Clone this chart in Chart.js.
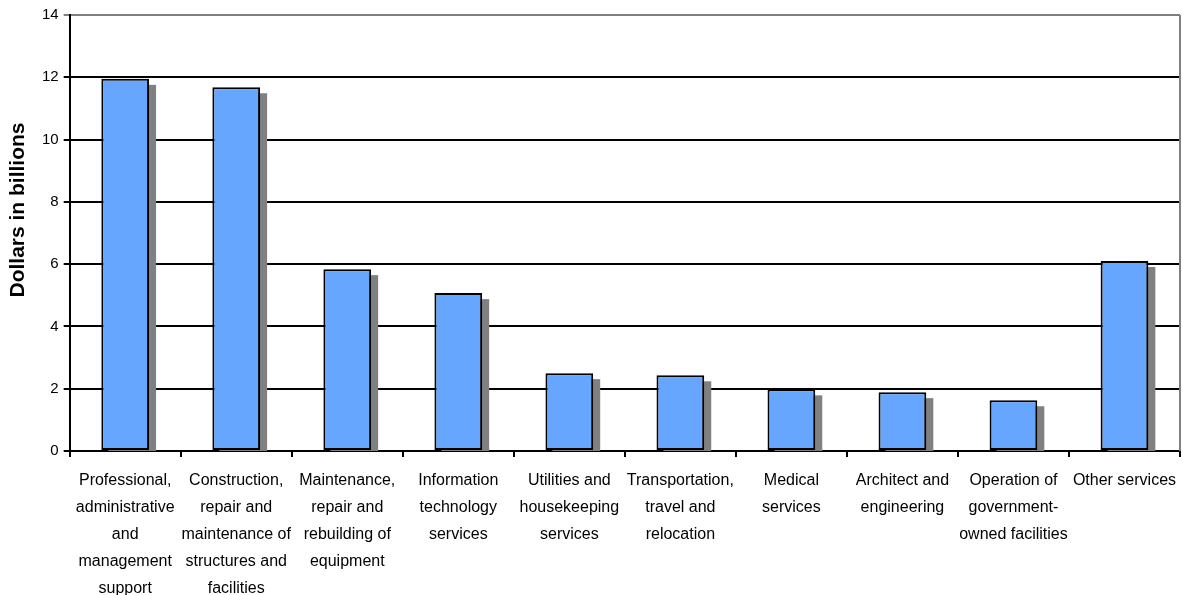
<!DOCTYPE html>
<html>
<head>
<meta charset="utf-8">
<script src="https://cdn.jsdelivr.net/npm/chart.js@4/dist/chart.umd.min.js"></script>
<style>
  html, body { margin: 0; padding: 0; background: #fff; }
  #wrap { width: 1183px; height: 595px; position: relative; }
</style>
</head>
<body>
<div id="wrap"><canvas id="chart"></canvas></div>
<script>
// categories (wrapped the way the original shows them)
const categories = [
  ["Professional,", "administrative", "and", "management", "support"],
  ["Construction,", "repair and", "maintenance of", "structures and", "facilities"],
  ["Maintenance,", "repair and", "rebuilding of", "equipment"],
  ["Information", "technology", "services"],
  ["Utilities and", "housekeeping", "services"],
  ["Transportation,", "travel and", "relocation"],
  ["Medical", "services"],
  ["Architect and", "engineering"],
  ["Operation of", "government-", "owned facilities"],
  ["Other services"]
];
const dollars = [11.95, 11.68, 5.84, 5.07, 2.5, 2.43, 1.98, 1.89, 1.63, 6.1];
const yTicks = [0, 2, 4, 6, 8, 10, 12, 14];
const yTitle = "Dollars in billions";

const FONT = "'Liberation Sans', Arial, sans-serif";

// gray drop shadow behind each bar
const barShadow = {
  id: "barShadow",
  beforeDatasetsDraw(chart) {
    const ctx = chart.ctx;
    const meta = chart.getDatasetMeta(0);
    const bottom = chart.scales.y.getPixelForValue(0);
    ctx.save();
    ctx.fillStyle = "#808080";
    meta.data.forEach((bar) => {
      const w = bar.width;
      const x = bar.x - w / 2 + 7;
      const y = bar.y + 6;
      ctx.fillRect(x, y, w, bottom - y);
    });
    ctx.restore();
  }
};

// gray frame on the right side of the plot area + the y title
const frame = {
  id: "frame",
  beforeDatasetsDraw(chart) {
    const a = chart.chartArea;
    const ctx = chart.ctx;
    ctx.save();
    ctx.strokeStyle = "#808080";
    ctx.lineWidth = 2;
    ctx.beginPath();
    ctx.moveTo(a.right, a.top);
    ctx.lineTo(a.right, a.bottom);
    ctx.stroke();
    ctx.restore();
  },
  afterDraw(chart) {
    const ctx = chart.ctx;
    ctx.save();
    ctx.translate(18, 210);
    ctx.rotate(-Math.PI / 2);
    ctx.font = "bold 21px " + FONT;
    ctx.fillStyle = "#000";
    ctx.textAlign = "center";
    ctx.textBaseline = "middle";
    ctx.fillText(yTitle, 0, 0);
    ctx.restore();
  }
};

new Chart(document.getElementById("chart"), {
  type: "bar",
  data: {
    labels: categories,
    datasets: [{
      data: dollars,
      backgroundColor: "#66A6FF",
      borderColor: "#000",
      borderWidth: 2,
      borderSkipped: false,
      categoryPercentage: 1,
      barPercentage: 0.43
    }]
  },
  options: {
    responsive: true,
    maintainAspectRatio: false,
    animation: false,
    layout: { padding: { top: 15, right: 3, left: 37, bottom: 0 } },
    plugins: {
      legend: { display: false },
      tooltip: { enabled: false }
    },
    scales: {
      x: {
        offset: true,
        afterFit(axis) {
          axis.height = 144;
          axis.paddingRight = 0;
        },
        grid: {
          offset: true,
          drawOnChartArea: false,
          color: "#000",
          lineWidth: 2,
          tickLength: 6
        },
        border: { color: "#000", width: 2 },
        ticks: {
          color: "#000",
          maxRotation: 0,
          autoSkip: false,
          padding: 10,
          font: { family: FONT, size: 16, lineHeight: 1.6875 }
        }
      },
      y: {
        min: 0,
        max: 14,
        afterBuildTicks(axis) {
          axis.ticks = yTicks.map((v) => ({ value: v }));
        },
        grid: {
          color: (c) => (c.tick && c.tick.value === 14 ? "#808080" : "#000"),
          lineWidth: 2,
          tickLength: 6
        },
        border: { color: "#000", width: 2 },
        ticks: {
          color: "#000",
          padding: 5,
          font: { family: FONT, size: 15 }
        }
      }
    }
  },
  plugins: [barShadow, frame]
});
</script>
</body>
</html>
